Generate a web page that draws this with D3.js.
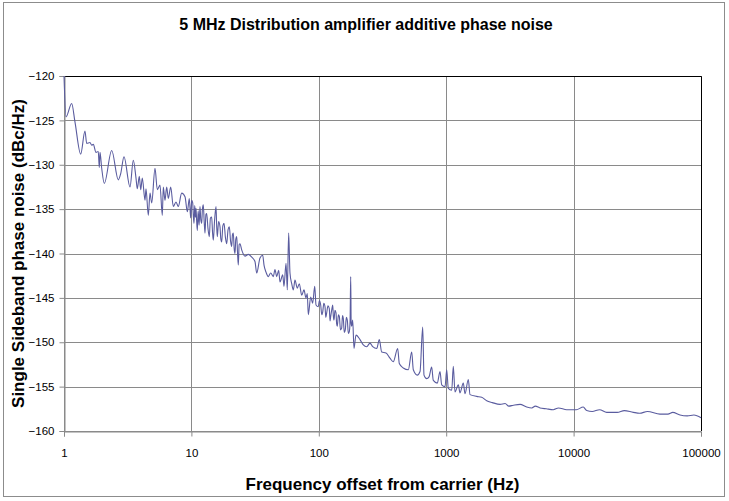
<!DOCTYPE html>
<html>
<head>
<meta charset="utf-8">
<script src="https://cdn.jsdelivr.net/npm/d3@7"></script>
<style>
body { margin: 0; background: white; }
text { font-family: "Liberation Sans", Arial, sans-serif; }
</style>
</head>
<body>
<script>
freq = [1.00, 1.037, 1.149, 1.22, 1.352, 1.461, 1.507, 1.600, 1.650, 1.698,
    1.783, 1.858, 1.892, 1.917, 1.977, 2.072, 2.368, 2.668, 2.787, 2.958,
    3.297, 3.499, 3.674, 3.762, 3.900, 4.000, 4.118, 4.323, 4.402, 4.589,
    4.732, 4.880, 5.180, 5.400, 5.669, 5.910, 6.017, 6.205, 6.398, 6.589,
    6.880, 7.21, 7.57, 7.89, 8.39, 8.91, 9.29, 9.63, 9.87, 10.05,
    10.24, 10.36, 10.48, 10.62, 10.75, 10.87, 11.0, 11.13, 11.3, 11.5,
    11.68, 11.85, 12.05, 12.2, 12.40, 12.6, 12.79, 13.0, 13.18, 13.5,
    13.82, 14.1, 14.43, 14.65, 14.86, 15.2, 15.60, 15.8, 15.97, 16.35,
    16.77, 17.0, 17.29, 17.65, 18.03, 18.5, 18.93, 19.4, 19.84, 20.3,
    20.72, 21.0, 21.33, 21.65, 21.99, 22.3, 22.68, 23.0, 23.35, 23.7,
    24.07, 24.82, 26.35, 27.97, 29.74, 31.55, 32.55, 34.55, 36.28, 37.15,
    38.51, 40.14, 41.92, 43.95, 45.29, 46.71, 48.42, 49.6, 52.1, 53.3,
    55.3, 56.6, 58.0, 59.4, 61.3, 63.1, 65.0, 67.8, 70.3, 73.4,
    76.5, 79.3, 81.2, 82.7, 86.4, 89.5, 92.9, 95.1, 99.1, 101,
    103.5, 105.5, 107.3, 109.5, 111.9, 113.5, 115.3, 118, 120.9, 122.5,
    124.0, 126.5, 128.6, 130, 131.6, 134, 136.5, 138, 139.7, 142.5,
    144.9, 148, 151.2, 153.5, 155.7, 158.5, 161.4, 164.5, 167.4, 170.5,
    173.6, 176, 178.0, 179.5, 181.2, 184.5, 188.9, 195.9, 210.6, 223.6,
    237.7, 252.2, 265, 284.8, 298.5, 311.6, 337, 362, 384, 416,
    428.5, 460.6, 504.2, 536, 552, 593, 623, 654, 669.5, 703,
    733, 769, 792, 851, 894, 922, 979, 1009, 1039, 1105,
    1137, 1172, 1245, 1283, 1362, 1405, 1491, 1538, 1735, 1900,
    2080, 2300, 2645, 2900, 3100, 3363, 3800, 4285, 4700, 5000,
    5450, 6100, 6930, 7600, 8830, 9950, 10500, 11910, 12670, 14000,
    16000, 18200, 22000, 25000, 29420, 33000, 38000, 47660, 55000, 60000,
    68390, 78000, 88000, 100000]
noise = [-120.0, -124.6, -123.1, -125.2, -128.8, -126.2, -127.6, -127.5, -127.8, -127.7,
    -128.6, -128.5, -130.3, -128.6, -130.4, -132.1, -128.4, -131.7, -131.0, -129.1,
    -132.5, -129.5, -131.5, -132.7, -131.3, -132.8, -131.5, -134.0, -132.7, -135.7,
    -133.2, -134.3, -130.4, -132.8, -132.3, -135.7, -132.5, -134.0, -132.5, -133.8,
    -132.5, -134.7, -134.2, -134.7, -133.2, -133.6, -135.3, -133.8, -136.0, -134.0,
    -134.3, -135.8, -136.6, -134.6, -135.9, -134.9, -136.4, -137.4, -135.2, -136.8,
    -134.7, -136.2, -136.6, -135.0, -134.5, -136.4, -137.7, -135.6, -135.5, -137.2,
    -138.1, -136.0, -135.9, -137.6, -138.5, -136.3, -134.7, -137.0, -138.1, -136.4,
    -137.0, -138.3, -138.7, -136.9, -136.6, -138.2, -138.9, -137.3, -137.0, -138.6,
    -139.2, -137.9, -137.7, -139.4, -140.0, -138.4, -138.1, -139.8, -141.3, -139.0,
    -138.9, -139.6, -140.3, -140.1, -140.4, -140.9, -142.2, -140.5, -140.2, -141.3,
    -142.1, -142.6, -142.2, -142.6, -141.8, -142.6, -141.9, -143.2, -142.4, -143.7,
    -141.1, -144.1, -137.7, -142.2, -143.4, -144.1, -143.0, -143.9, -143.4, -144.7,
    -144.1, -145.0, -144.5, -146.9, -144.9, -145.6, -143.7, -145.8, -146.0, -145.3,
    -145.8, -146.9, -146.6, -145.6, -146.0, -147.2, -146.7, -145.9, -146.2, -147.6,
    -147.1, -146.3, -145.8, -147.0, -147.5, -146.4, -146.7, -147.9, -148.2, -146.9,
    -147.1, -148.6, -148.4, -147.0, -147.3, -148.9, -148.6, -147.2, -147.5, -149.0,
    -148.8, -147.6, -142.6, -147.9, -148.2, -147.5, -150.7, -149.2, -149.7, -150.3,
    -150.5, -150.1, -150.5, -150.7, -149.7, -151.1, -151.2, -151.8, -152.2, -150.7,
    -152.4, -152.9, -153.1, -151.1, -153.1, -153.7, -153.3, -148.3, -153.7, -154.1,
    -153.9, -152.8, -154.3, -154.6, -153.3, -154.8, -155.0, -153.1, -155.2, -155.4,
    -152.7, -155.6, -154.8, -155.7, -154.6, -155.8, -154.2, -155.9, -156.1, -156.2,
    -156.6, -156.8, -157.0, -156.9, -157.2, -157.1, -157.0, -157.3, -157.4, -157.2,
    -157.4, -157.5, -157.6, -157.4, -157.6, -157.6, -157.6, -157.3, -157.7, -157.8,
    -157.6, -157.9, -157.9, -157.7, -157.9, -158.0, -157.8, -158.1, -158.1, -157.9,
    -158.2, -158.3, -158.2, -158.5]

xTicks = [1, 10, 100, 1000, 10000, 100000]
yTicks = [-120, -125, -130, -135, -140, -145, -150, -155, -160]

W = 729
H = 501
// plot area edges (window.top is read-only, so no bare "top")
pL = 64
pR = 701
pT = 76
pB = 431

svg = d3.select("body")
    .append("svg")
    .attr("width", W)
    .attr("height", H)

// outer chart frame
svg.append("rect")
    .attr("x", 3.5).attr("y", 2.5)
    .attr("width", 721).attr("height", 494)
    .attr("fill", "white")
    .attr("stroke", "#8c8c8c")

x = d3.scaleLog().domain([1, 100000]).range([pL, pR])
y = d3.scaleLinear().domain([-160, -120]).range([pB, pT])

// grid
svg.selectAll("line.h")
    .data(yTicks)
    .enter()
    .append("line")
    .attr("x1", pL).attr("x2", pR)
    .attr("y1", function(d) { return Math.round(y(d)) + 0.5; })
    .attr("y2", function(d) { return Math.round(y(d)) + 0.5; })
    .attr("stroke", "#8a8a8a")
svg.selectAll("line.v")
    .data(xTicks)
    .enter()
    .append("line")
    .attr("y1", pT).attr("y2", pB)
    .attr("x1", function(d) { return Math.round(x(d)) + 0.5; })
    .attr("x2", function(d) { return Math.round(x(d)) + 0.5; })
    .attr("stroke", "#8a8a8a")

// top and right edge of plot area are black
svg.append("path")
    .attr("d", "M" + pL + "," + (pT + 0.5) + "H" + (pR + 0.5) + "V" + pB)
    .attr("fill", "none")
    .attr("stroke", "black")

// axes
xAxis = svg.append("g")
    .attr("transform", "translate(0," + (pB + 0.5) + ")")
    .call(d3.axisBottom(x).tickValues(xTicks).tickFormat(d3.format("d")).tickSizeOuter(0).tickSize(5).tickPadding(12))
yAxis = svg.append("g")
    .attr("transform", "translate(" + (pL + 0.5) + ",0)")
    .call(d3.axisLeft(y).tickValues(yTicks).tickFormat(d3.format("d")).tickSizeOuter(0).tickSize(5).tickPadding(5))
svg.selectAll(".domain, .tick line").attr("stroke", "#8a8a8a")
svg.selectAll(".tick text")
    .attr("font-family", "Liberation Sans, Arial, sans-serif")
    .attr("font-size", 11.5)
    .attr("fill", "#000")

// the trace
line = d3.line()
    .x(function(d) { return x(d[0]); })
    .y(function(d) { return y(d[1]); })
    .curve(d3.curveMonotoneX)
svg.append("path")
    .datum(d3.zip(freq, noise))
    .attr("d", line)
    .attr("fill", "none")
    .attr("stroke", "#5a5c9f")
    .attr("stroke-width", 1.1)
    .attr("stroke-linejoin", "round")

// titles
svg.append("text")
    .attr("x", 366).attr("y", 30)
    .attr("text-anchor", "middle")
    .attr("font-weight", "bold")
    .attr("font-size", 16)
    .text("5 MHz Distribution amplifier additive phase noise")
svg.append("text")
    .attr("x", (pL + pR) / 2).attr("y", 490)
    .attr("text-anchor", "middle")
    .attr("font-weight", "bold")
    .attr("font-size", 17)
    .text("Frequency offset from carrier (Hz)")
svg.append("text")
    .attr("transform", "translate(24," + ((pT + pB) / 2) + ") rotate(-90)")
    .attr("text-anchor", "middle")
    .attr("font-weight", "bold")
    .attr("font-size", 17)
    .text("Single Sideband phase noise (dBc/Hz)")
</script>
</body>
</html>
